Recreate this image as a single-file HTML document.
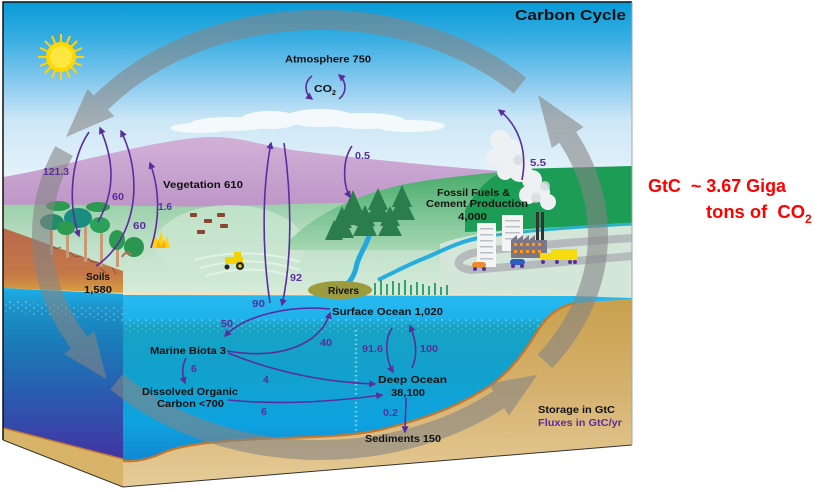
<!DOCTYPE html>
<html><head><meta charset="utf-8"><style>
html,body{margin:0;padding:0;background:#fff;}
svg{display:block}
text{font-family:"Liberation Sans",Arial,sans-serif;font-weight:bold;}
</style></head><body>
<svg width="814" height="493" viewBox="0 0 814 493" xmlns="http://www.w3.org/2000/svg">
<defs>
 <clipPath id="clip"><polygon points="3,2 632,2 632,445 123,487 3,440"/></clipPath>
 <linearGradient id="sky" gradientUnits="userSpaceOnUse" x1="0" y1="2" x2="0" y2="200">
  <stop offset="0" stop-color="#079bd6"/><stop offset="0.18" stop-color="#36ade2"/>
  <stop offset="0.4" stop-color="#86c9ee"/><stop offset="0.6" stop-color="#cde7f6"/><stop offset="1" stop-color="#eef7fc"/>
 </linearGradient>
 <linearGradient id="purp" gradientUnits="userSpaceOnUse" x1="0" y1="135" x2="0" y2="215">
  <stop offset="0" stop-color="#d2b2d8"/><stop offset="1" stop-color="#bb93c5"/>
 </linearGradient>
 <linearGradient id="land" gradientUnits="userSpaceOnUse" x1="0" y1="200" x2="0" y2="295">
  <stop offset="0" stop-color="#98cea8"/><stop offset="0.5" stop-color="#bfe1c8"/><stop offset="1" stop-color="#d6ecdc"/>
 </linearGradient>
 <linearGradient id="fhill" gradientUnits="userSpaceOnUse" x1="0" y1="175" x2="0" y2="250">
  <stop offset="0" stop-color="#4bae6e"/><stop offset="1" stop-color="#a6d7b3"/>
 </linearGradient>
 <linearGradient id="soil" gradientUnits="userSpaceOnUse" x1="0" y1="228" x2="0" y2="293">
  <stop offset="0" stop-color="#b86a4c"/><stop offset="0.7" stop-color="#c47848"/><stop offset="1" stop-color="#d9a040"/>
 </linearGradient>
 <linearGradient id="ocean" gradientUnits="userSpaceOnUse" x1="0" y1="294" x2="0" y2="465">
  <stop offset="0" stop-color="#27baf0"/><stop offset="0.14" stop-color="#20b2ea"/>
  <stop offset="0.19" stop-color="#17a2c4"/><stop offset="0.45" stop-color="#12a1cc"/>
  <stop offset="0.75" stop-color="#0ea3e0"/><stop offset="1" stop-color="#1284d0"/>
 </linearGradient>
 <linearGradient id="lface" gradientUnits="userSpaceOnUse" x1="0" y1="288" x2="0" y2="465">
  <stop offset="0" stop-color="#1eb0ea"/><stop offset="0.12" stop-color="#1a92c8"/>
  <stop offset="0.3" stop-color="#1a7cb8"/><stop offset="0.6" stop-color="#2a5cb0"/><stop offset="1" stop-color="#4430a0"/>
 </linearGradient>
 <linearGradient id="tan" gradientUnits="userSpaceOnUse" x1="0" y1="300" x2="0" y2="487">
  <stop offset="0" stop-color="#c9a04c"/><stop offset="0.5" stop-color="#d6b270"/><stop offset="1" stop-color="#e6cc98"/>
 </linearGradient>
 <pattern id="dots" width="8" height="6" patternUnits="userSpaceOnUse">
  <circle cx="2" cy="2" r="0.8" fill="#ffffff" opacity="0.55"/><circle cx="6" cy="5" r="0.6" fill="#ffffff" opacity="0.45"/>
 </pattern>
 <marker id="ah" viewBox="0 0 10 10" refX="8" refY="5" markerWidth="4.5" markerHeight="4.5" orient="auto" markerUnits="strokeWidth">
  <path d="M0,0 L10,5 L0,10 z" fill="#5a2d9c"/>
 </marker>
</defs>

<g clip-path="url(#clip)">
 <!-- sky -->
 <rect x="0" y="0" width="640" height="320" fill="url(#sky)"/>
 <!-- clouds -->
 <g fill="#f4f9fc">
  <ellipse cx="230" cy="124" rx="40" ry="7"/><ellipse cx="270" cy="120" rx="30" ry="9"/>
  <ellipse cx="320" cy="118" rx="35" ry="9"/><ellipse cx="365" cy="121" rx="40" ry="8"/>
  <ellipse cx="410" cy="126" rx="35" ry="6"/><ellipse cx="200" cy="128" rx="30" ry="5"/>
 </g>
 <!-- purple mountains -->
 <path d="M3,177 C60,168 150,140 207,137 C240,136 262,146 300,151 C360,158 420,165 500,171 L632,172 L632,240 L3,240 Z" fill="url(#purp)"/>
 <!-- land base -->
 <path d="M3,205 C80,203 160,208 230,206 C300,204 380,200 460,205 L632,210 L632,300 L3,300 Z" fill="url(#land)"/>
 <!-- light hill with cows -->
 <ellipse cx="230" cy="245" rx="75" ry="40" fill="#cde8d3" opacity="0.7"/>
 <path d="M195,260 C230,250 270,252 300,262 M200,268 C235,258 270,260 300,270 M205,276 C240,266 270,268 298,278" stroke="#e2f2e6" stroke-width="2" fill="none"/>
 <!-- forest hill -->
 <path d="M290,240 C320,210 370,188 430,180 C460,176 480,174 500,172 L500,250 L290,250 Z" fill="url(#fhill)"/>
 <!-- bright green right hill -->
 <path d="M465,210 C478,188 492,172 515,169 L632,166 L632,226 L465,232 Z" fill="#1d9c55"/>
 <!-- right low land / road area -->
 <path d="M440,244 C470,232 520,228 632,224 L632,300 L440,300 Z" fill="#d3e6d8"/>
 <!-- rivers -->
 <path d="M478,238 C510,232 560,228 632,224" stroke="#2bb2c6" stroke-width="3" fill="none"/>
 <path d="M478,238 C455,243 440,252 425,258 C405,266 395,272 378,280" stroke="#27aede" stroke-width="4" fill="none"/>
 <path d="M372,226 C368,245 358,255 356,268 C353,280 346,286 338,292" stroke="#22a8dc" stroke-width="5" fill="none"/>
 <!-- road -->
 <path d="M632,238 C590,241 520,246 478,252 C455,256 452,268 472,270 L632,256" stroke="#b5babd" stroke-width="8" fill="none"/>
 <!-- soil on left face -->
 <polygon points="3,228 123,271 123,293 3,288" fill="url(#soil)"/>
 <g stroke="#7a4030" stroke-width="1" fill="none" opacity="0.7">
  <path d="M50,245 l6,4 l5,-2 M70,252 l5,5 l6,-1 M88,258 l4,4 l6,0 M100,268 l6,5 M112,268 l4,6"/>
 </g>
 <!-- land edge cream -->
 <path d="M123,293 L575,296" stroke="#f1e4c4" stroke-width="3"/>
 <!-- front ocean -->
 <polygon points="123,295 575,296 632,298 632,460 123,470" fill="url(#ocean)"/>
 <rect x="123" y="318" width="460" height="14" fill="url(#dots)"/>
 <line x1="356" y1="330" x2="356" y2="440" stroke="#d8f0ff" stroke-width="2.5" stroke-dasharray="1.5,3" opacity="0.55"/>
 <!-- left face ocean -->
 <polygon points="3,288 123,294 123,470 3,440" fill="url(#lface)"/>
 <polygon points="3,300 123,308 123,322 3,312" fill="url(#dots)"/>
 <!-- left face tan -->
 <polygon points="3,428 123,459 123,487 3,440" fill="#d8b468"/>
 <path d="M3,428 L123,459" stroke="#c67a30" stroke-width="1.5"/>
 <!-- seabed -->
 <path d="M632,299 L575,303 C556,307 545,318 535,335 C522,356 505,378 480,392 C450,410 420,420 380,430 C340,438 300,437 260,439 C220,441 185,444 165,452 C148,460 135,462 123,461 L123,487 L632,445 Z" fill="url(#tan)"/>
 <path d="M575,303 C556,307 545,318 535,335 C522,356 505,378 480,392 C450,410 420,420 380,430 C340,438 300,437 260,439 C220,441 185,444 165,452 C148,460 135,462 123,461" stroke="#c4772e" stroke-width="2.2" fill="none"/>
 <!-- marsh -->
 <ellipse cx="340" cy="290" rx="32" ry="9" fill="#9c9c3e"/>
 <g stroke="#35a070" stroke-width="2">
  <path d="M375,295 v-12 M381,295 v-15 M387,295 v-11 M393,295 v-14 M399,295 v-12 M405,295 v-15 M411,295 v-10 M417,295 v-13 M423,295 v-11 M429,295 v-9 M435,295 v-12 M441,295 v-8 M447,295 v-10"/>
 </g>
 <!-- sun -->
 <g transform="translate(61,57)">
  <g stroke="#ffd400" stroke-width="2">
   <path d="M0,-23 V23 M-23,0 H23 M-16,-16 L16,16 M-16,16 L16,-16 M-9,-21 L9,21 M9,-21 L-9,21 M-21,-9 L21,9 M-21,9 L21,-9"/>
  </g>
  <circle r="15" fill="#ffd800"/><circle r="11" fill="#ffe640"/>
 </g>
 <!-- left trees -->
 <g>
  <g fill="#c89a78"><rect x="50" y="225" width="3" height="30"/><rect x="66" y="220" width="3" height="38"/><rect x="84" y="222" width="3" height="40"/><rect x="100" y="225" width="3" height="42"/><rect x="116" y="232" width="3" height="35"/></g>
  <ellipse cx="58" cy="206" rx="12" ry="5" fill="#2e9a50"/>
  <ellipse cx="98" cy="207" rx="12" ry="5" fill="#2e9a50"/>
  <ellipse cx="52" cy="222" rx="12" ry="8" fill="#1f8c6a"/>
  <ellipse cx="78" cy="218" rx="14" ry="10" fill="#1a8c80"/>
  <ellipse cx="100" cy="225" rx="10" ry="8" fill="#2aa058"/>
  <ellipse cx="66" cy="228" rx="9" ry="7" fill="#2e9a50"/>
  <ellipse cx="117" cy="240" rx="8" ry="10" fill="#2c9a50"/>
  <ellipse cx="134" cy="247" rx="10" ry="10" fill="#2a9650"/>
  <path d="M132,255 c-4,-4 -8,-2 -10,2" stroke="#b07050" stroke-width="2" fill="none"/>
 </g>
 <!-- fire -->
 <g>
  <path d="M152,248 L155,234 L158,242 L161,230 L164,243 L167,236 L170,248 Z" fill="#ffd21a"/>
  <path d="M156,248 L158,240 L161,246 L164,240 L166,248 Z" fill="#ffb000"/>
 </g>
 <!-- cows -->
 <g fill="#8a4630">
  <rect x="190" y="213" width="7" height="4" rx="1"/><rect x="204" y="219" width="8" height="4" rx="1"/>
  <rect x="217" y="213" width="8" height="4" rx="1"/><rect x="220" y="224" width="8" height="4" rx="1"/>
  <rect x="197" y="230" width="8" height="4" rx="1"/>
 </g>
 <!-- tractor -->
 <g>
  <rect x="225" y="257" width="18" height="7" fill="#f2d200"/><rect x="234" y="252" width="7" height="6" fill="#f2d200"/>
  <circle cx="240" cy="266" r="4" fill="#222"/><circle cx="240" cy="266" r="1.8" fill="#f2d200"/><circle cx="227" cy="267" r="2.5" fill="#222"/>
 </g>
 <!-- conifers -->
 <g fill="#2b7d4b">
  <polygon points="353,190 343,213 363,213"/><polygon points="353,198 340,225 366,225"/>
  <polygon points="378,188 368,210 388,210"/><polygon points="378,196 365,222 391,222"/>
  <polygon points="402,185 392,207 412,207"/><polygon points="402,193 389,220 415,220"/>
  <polygon points="342,206 332,228 352,228"/><polygon points="342,214 330,238 354,238"/>
  <polygon points="365,205 355,226 375,226"/><polygon points="365,212 353,236 377,236"/>
  <polygon points="390,206 380,226 400,226"/><polygon points="390,213 378,236 402,236"/>
  <polygon points="334,220 325,240 343,240"/>
 </g>
 <!-- smoke -->
 <g fill="#eef1f4">
  <circle cx="500" cy="140" r="10"/><circle cx="510" cy="152" r="13"/><circle cx="495" cy="158" r="9"/>
  <circle cx="520" cy="170" r="12"/><circle cx="532" cy="180" r="10"/><circle cx="540" cy="192" r="10"/>
  <circle cx="528" cy="195" r="9"/><circle cx="548" cy="202" r="8"/><circle cx="505" cy="172" r="8"/>
 </g>
 <g fill="#d6dbe0" opacity="0.8"><circle cx="536" cy="198" r="5"/><circle cx="545" cy="186" r="5"/><circle cx="518" cy="160" r="5"/></g>
 <!-- city -->
 <rect x="477" y="223" width="19" height="44" fill="#f4f4f4"/>
 <rect x="502" y="215" width="21" height="36" fill="#f4f4f4"/>
 <g fill="#b8c0c8">
  <rect x="480" y="228" width="13" height="1.5"/><rect x="480" y="234" width="13" height="1.5"/><rect x="480" y="240" width="13" height="1.5"/><rect x="480" y="246" width="13" height="1.5"/><rect x="480" y="252" width="13" height="1.5"/><rect x="480" y="258" width="13" height="1.5"/>
  <rect x="505" y="220" width="15" height="1.5"/><rect x="505" y="226" width="15" height="1.5"/><rect x="505" y="232" width="15" height="1.5"/><rect x="505" y="238" width="15" height="1.5"/>
 </g>
 <rect x="536" y="212" width="3" height="28" fill="#333"/><rect x="541" y="212" width="3" height="28" fill="#333"/>
 <polygon points="511,240 517,235 517,240 523,235 523,240 529,235 529,240 535,235 535,240 547,240 547,258 511,258" fill="#7a7888"/>
 <g fill="#ff9a20">
  <rect x="514" y="243" width="3" height="3"/><rect x="520" y="243" width="3" height="3"/><rect x="526" y="243" width="3" height="3"/><rect x="532" y="243" width="3" height="3"/><rect x="538" y="243" width="3" height="3"/>
  <rect x="514" y="250" width="3" height="3"/><rect x="520" y="250" width="3" height="3"/><rect x="526" y="250" width="3" height="3"/><rect x="532" y="250" width="3" height="3"/><rect x="538" y="250" width="3" height="3"/>
 </g>
 <!-- vehicles -->
 <rect x="472" y="262" width="14" height="6" rx="3" fill="#f08a30"/><circle cx="475" cy="269" r="2" fill="#5a2d9c"/><circle cx="484" cy="269" r="2" fill="#5a2d9c"/>
 <rect x="510" y="259" width="15" height="6" rx="3" fill="#2a60c0"/><circle cx="513" cy="266" r="2" fill="#5a2d9c"/><circle cx="522" cy="266" r="2" fill="#5a2d9c"/>
 <rect x="551" y="249" width="26" height="11" fill="#f4dc10"/><rect x="540" y="253" width="11" height="7" fill="#f4dc10"/>
 <circle cx="543" cy="262" r="2" fill="#5a2d9c"/><circle cx="557" cy="262" r="2" fill="#5a2d9c"/><circle cx="570" cy="262" r="2" fill="#5a2d9c"/><circle cx="575" cy="262" r="2" fill="#5a2d9c"/>

 <!-- big gray cycle arrow -->
 <g opacity="0.59" fill="#858585" stroke="none">
  <path d="M520,85.6 A278,215 0 0 0 100.9,102.6" stroke="#858585" stroke-width="20" fill="none"/>
  <polygon points="114.3,116.1 87.5,89.1 66,137"/>
  <path d="M64.1,151 A278,215 0 0 0 79.2,342.5" stroke="#858585" stroke-width="20" fill="none"/>
  <polygon points="94.4,331.1 64,353.9 106.7,379.4"/>
  <path d="M116.7,381.6 A278,215 0 0 0 498.7,399.7" stroke="#858585" stroke-width="20" fill="none"/>
  <polygon points="509,415.6 488.4,383.8 537.3,374.7"/>
  <path d="M544.9,361.4 A278,215 0 0 0 567.7,137.4" stroke="#858585" stroke-width="20" fill="none"/>
  <polygon points="583.6,127 551.8,147.9 538,95"/>
 </g>
</g>

<!-- frame -->
<path d="M3,440 L3,2 L632,2" stroke="#111" stroke-width="1.5" fill="none"/>
<path d="M3,440 L123,487 L632,445" stroke="#333" stroke-width="1" fill="none"/>
<line x1="632" y1="2" x2="632" y2="445" stroke="#9aa" stroke-width="1"/>

<!-- purple flux arrows -->
<g stroke="#5a2d9c" stroke-width="1.6" fill="none" marker-end="url(#ah)">
 <path d="M89,132 C70,160 68,205 79,236"/>
 <path d="M98,222 C116,190 114,160 100,128"/>
 <path d="M96,266 C135,240 145,180 121,131"/>
 <path d="M151,248 C160,220 160,190 150,163"/>
 <path d="M270,303 C262,250 262,190 271,143"/>
 <path d="M284,143 C292,200 292,260 282,305"/>
 <path d="M352,146 C342,160 343,185 350,197"/>
 <path d="M522,180 C528,150 518,125 499,110"/>
 <path d="M330,309 C290,305 245,315 225,336"/>
 <path d="M227,351 C280,360 320,345 330,313"/>
 <path d="M228,353 C270,370 320,382 375,384"/>
 <path d="M186,358 C182,366 182,375 185,383"/>
 <path d="M228,400 C280,405 330,402 382,395"/>
 <path d="M392,328 C384,340 386,360 393,372"/>
 <path d="M412,368 C418,355 416,340 410,326"/>
 <path d="M406,398 C406,410 405,420 405,432"/>
 <path d="M312,76 C304,82 304,93 312,99"/>
 <path d="M339,99 C347,93 347,82 339,75"/>
</g>

<!-- black labels -->
<g fill="#111" font-size="10.5">
 <text x="515" y="20" font-size="15" textLength="111" lengthAdjust="spacingAndGlyphs">Carbon Cycle</text>
 <text x="285" y="62.5" textLength="86" lengthAdjust="spacingAndGlyphs">Atmosphere 750</text>
 <text x="314" y="92" font-size="10" textLength="18" lengthAdjust="spacingAndGlyphs">CO</text>
 <text x="332" y="95" font-size="7">2</text>
 <text x="163" y="188" textLength="80" lengthAdjust="spacingAndGlyphs">Vegetation 610</text>
 <text x="86" y="280" textLength="24" lengthAdjust="spacingAndGlyphs">Soils</text>
 <text x="84" y="293" textLength="28" lengthAdjust="spacingAndGlyphs">1,580</text>
 <text x="150" y="354" textLength="76" lengthAdjust="spacingAndGlyphs">Marine Biota 3</text>
 <text x="142" y="395" textLength="96" lengthAdjust="spacingAndGlyphs">Dissolved Organic</text>
 <text x="157" y="407" textLength="67" lengthAdjust="spacingAndGlyphs">Carbon &lt;700</text>
 <text x="328" y="294" textLength="31" lengthAdjust="spacingAndGlyphs">Rivers</text>
 <text x="332" y="315" textLength="111" lengthAdjust="spacingAndGlyphs">Surface Ocean 1,020</text>
 <text x="378" y="383" textLength="69" lengthAdjust="spacingAndGlyphs">Deep Ocean</text>
 <text x="391" y="396" textLength="34" lengthAdjust="spacingAndGlyphs">38,100</text>
 <text x="365" y="442" textLength="76" lengthAdjust="spacingAndGlyphs">Sediments 150</text>
 <text x="538" y="413" textLength="77" lengthAdjust="spacingAndGlyphs">Storage in GtC</text>
 <text x="437" y="196" textLength="73" lengthAdjust="spacingAndGlyphs">Fossil Fuels &amp;</text>
 <text x="426" y="207" textLength="102" lengthAdjust="spacingAndGlyphs">Cement Production</text>
 <text x="458" y="220" textLength="29" lengthAdjust="spacingAndGlyphs">4,000</text>
</g>
<!-- purple labels -->
<g fill="#5a2d9c" font-size="10.5">
 <text x="538" y="426" textLength="84" lengthAdjust="spacingAndGlyphs">Fluxes in GtC/yr</text>
 <text x="43" y="175" textLength="26" lengthAdjust="spacingAndGlyphs">121.3</text>
 <text x="112" y="200" textLength="12" lengthAdjust="spacingAndGlyphs">60</text>
 <text x="133" y="229" textLength="13" lengthAdjust="spacingAndGlyphs">60</text>
 <text x="158" y="210" textLength="14" lengthAdjust="spacingAndGlyphs">1.6</text>
 <text x="355" y="159" textLength="15" lengthAdjust="spacingAndGlyphs">0.5</text>
 <text x="530" y="166" textLength="16" lengthAdjust="spacingAndGlyphs">5.5</text>
 <text x="252" y="307" textLength="13" lengthAdjust="spacingAndGlyphs">90</text>
 <text x="290" y="281" textLength="12" lengthAdjust="spacingAndGlyphs">92</text>
 <text x="221" y="327" textLength="12" lengthAdjust="spacingAndGlyphs">50</text>
 <text x="320" y="346" textLength="12" lengthAdjust="spacingAndGlyphs">40</text>
 <text x="191" y="372">6</text>
 <text x="263" y="383">4</text>
 <text x="261" y="415">6</text>
 <text x="362" y="352" textLength="21" lengthAdjust="spacingAndGlyphs">91.6</text>
 <text x="420" y="352" textLength="18" lengthAdjust="spacingAndGlyphs">100</text>
 <text x="383" y="416" textLength="15" lengthAdjust="spacingAndGlyphs">0.2</text>
</g>

<!-- red annotation -->
<g fill="#ff0000" font-size="18">
 <text x="648" y="192" textLength="138" lengthAdjust="spacingAndGlyphs" xml:space="preserve">GtC  ~ 3.67 Giga</text>
 <text x="706" y="218" textLength="99" lengthAdjust="spacingAndGlyphs" xml:space="preserve">tons of  CO</text>
 <text x="805" y="223" font-size="12">2</text>
</g>
</svg>
</body></html>
